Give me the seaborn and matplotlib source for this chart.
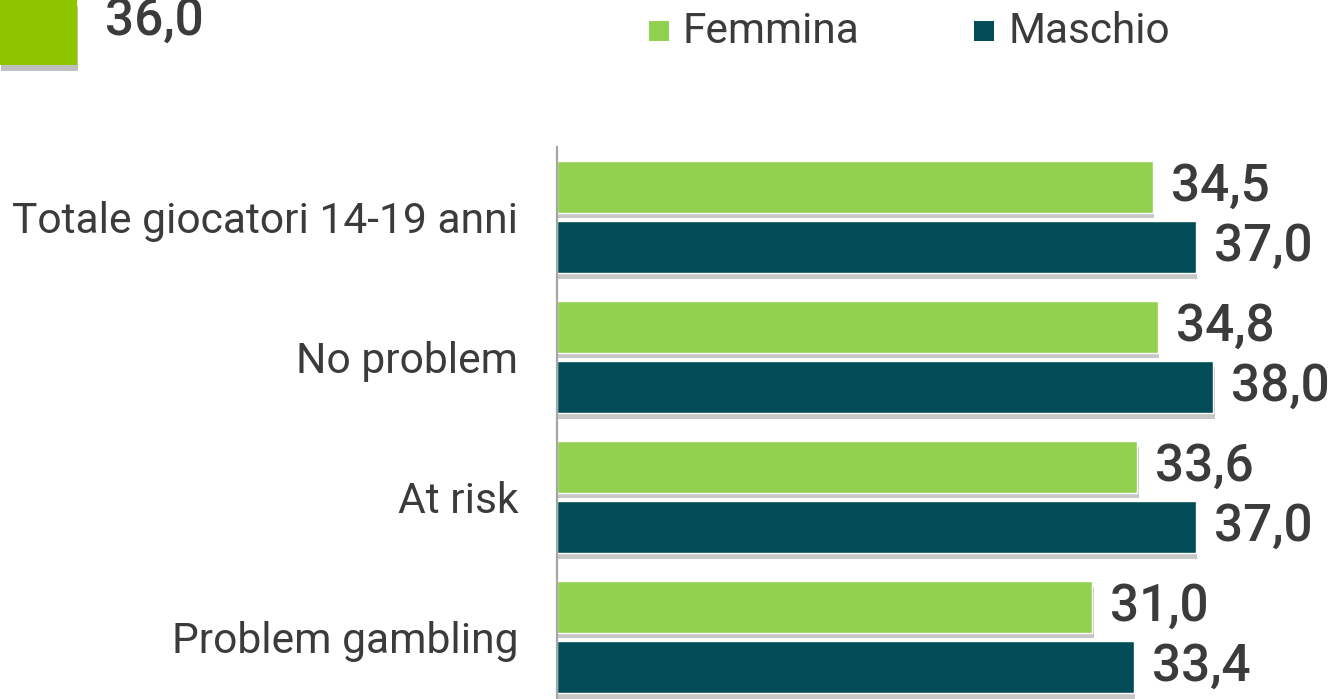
import matplotlib
matplotlib.use("Agg")
import matplotlib.pyplot as plt
import matplotlib.patheffects as pe
from matplotlib.patches import Rectangle
import pandas as pd
import seaborn as sns

categories = ["Totale giocatori 14-19 anni", "No problem", "At risk", "Problem gambling"]
femmina = [34.5, 34.8, 33.6, 31.0]
maschio = [37.0, 38.0, 37.0, 33.4]
series = ["Femmina", "Maschio"]
colors = {"Femmina": "#92D050", "Maschio": "#024D57"}
headline_value = 36.0

TEXT = "#3B3B3B"

sns.set_theme(style="white")
plt.rcParams["font.family"] = ["Roboto", "DejaVu Sans"]

df = pd.DataFrame({
    "categoria": categories * 2,
    "valore": femmina + maschio,
    "sesso": [series[0]] * len(categories) + [series[1]] * len(categories),
})

W, H = 1334, 699
fig = plt.figure(figsize=(W / 100, H / 100), dpi=100)
ax = fig.add_axes([557 / W, (H - 707) / H, (W - 557) / W, 560 / H])

sns.barplot(data=df, y="categoria", x="valore", hue="sesso", hue_order=series,
            palette=colors, orient="h", width=0.86, gap=0.14, saturation=1,
            legend=False, ax=ax)

shadow = [pe.SimplePatchShadow(offset=(1, -4), shadow_rgbFace="#000000", alpha=0.22),
          pe.Normal()]
for patch in ax.patches:
    patch.set_path_effects(shadow)

for container in ax.containers:
    labels = [f"{v:.1f}".replace(".", ",") for v in container.datavalues]
    ax.bar_label(container, labels=labels, padding=13, fontsize=37,
                 fontweight="medium", color=TEXT)

ax.set_xlim(0, 45)
ax.set_ylim(3.5, -0.5)
ax.set_xlabel("")
ax.set_ylabel("")
ax.set_xticks([])
ax.tick_params(axis="y", length=0, pad=28, labelsize=30.7, labelcolor=TEXT)
for side in ("top", "right", "bottom"):
    ax.spines[side].set_visible(False)
ax.spines["left"].set_color("#A6A6A6")
ax.spines["left"].set_linewidth(1.6)

# headline block in the top-left corner
block = Rectangle((0, 1 - 65 / H), 77 / W, 65 / H, transform=fig.transFigure,
                  facecolor="#8EC400", edgecolor="none",
                  path_effects=[pe.SimplePatchShadow(offset=(1, -4), shadow_rgbFace="#000000", alpha=0.25),
                                pe.Normal()])
fig.patches.append(block)
fig.text(105 / W, 1 - 35 / H, f"{headline_value:.1f}".replace(".", ","),
         fontsize=37, fontweight="medium", color=TEXT, ha="left", va="baseline")

# legend
for name, sq_x, tx_x in [("Femmina", 649, 682), ("Maschio", 974, 1008)]:
    fig.patches.append(Rectangle((sq_x / W, 1 - 41 / H), 20 / W, 20 / H,
                                 transform=fig.transFigure, facecolor=colors[name],
                                 edgecolor="none"))
    fig.text(tx_x / W, 1 - 43 / H, name, fontsize=30.5, color=TEXT,
             ha="left", va="baseline")

fig.savefig("out.png", dpi=100)
